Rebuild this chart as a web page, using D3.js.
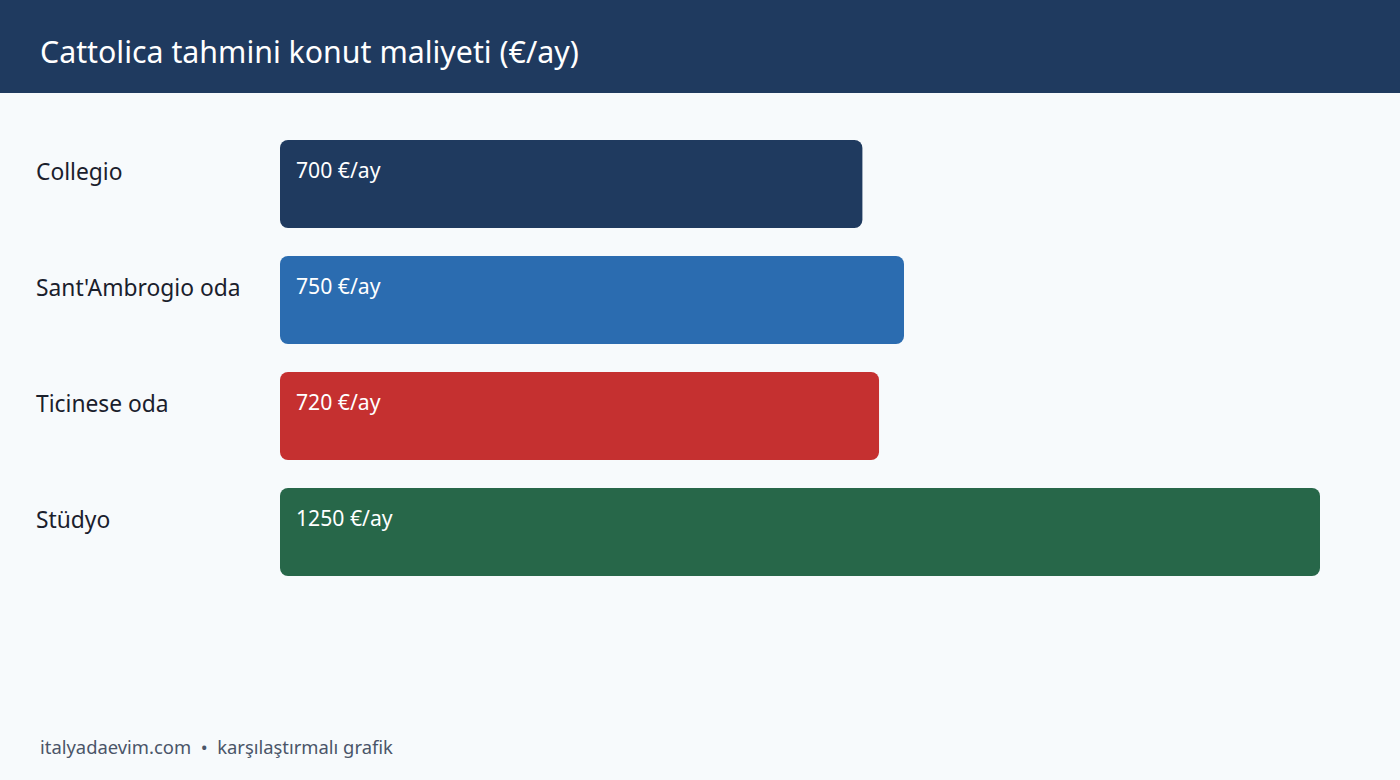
<!DOCTYPE html>
<html>
<head>
<meta charset="utf-8">
<title>Cattolica tahmini konut maliyeti</title>
<script src="https://d3js.org/d3.v7.min.js"></script>
<style>
  html, body { margin: 0; padding: 0; background: #f7fafc; }
  svg { display: block; font-family: "Segoe UI", "Noto Sans", sans-serif; }
</style>
</head>
<body>
<div id="chart"></div>
<script>
// data
var categories = ["Collegio", "Sant'Ambrogio oda", "Ticinese oda", "Stüdyo"];
var values = [700, 750, 720, 1250];
var colors = ["#1f3a5f", "#2b6cb0", "#c53030", "#276749"];
var unit = "€/ay";
var title = "Cattolica tahmini konut maliyeti (€/ay)";
var footer = "italyadaevim.com  •  karşılaştırmalı grafik";

var W = 1400, H = 780;

var svg = d3.select("#chart").append("svg")
  .attr("width", W)
  .attr("height", H);

svg.append("rect").attr("width", W).attr("height", H).attr("fill", "#f7fafc");

// header
svg.append("rect").attr("width", W).attr("height", 93).attr("fill", "#1f3a5f");
svg.append("text")
  .attr("x", 40).attr("y", 63)
  .attr("fill", "#ffffff")
  .attr("font-size", 30.3)
  .text(title);

// scales
var x = d3.scaleLinear().domain([0, 1250]).range([280, 1320]);
var y = d3.scaleBand().domain(categories).range([140, 576])
  .paddingInner(28 / 116).paddingOuter(0);

var rows = svg.selectAll("g.row")
  .data(categories.map(function(c, i) { return { cat: c, val: values[i], col: colors[i] }; }))
  .enter().append("g").attr("class", "row");

rows.append("rect")
  .attr("x", x(0))
  .attr("y", function(d) { return y(d.cat); })
  .attr("width", function(d) { return x(d.val) - x(0); })
  .attr("height", y.bandwidth())
  .attr("rx", 8).attr("ry", 8)
  .attr("fill", function(d) { return d.col; });

rows.append("text")
  .attr("x", 36)
  .attr("y", function(d) { return y(d.cat) + 40; })
  .attr("fill", "#1a202c")
  .attr("font-size", 22.8)
  .text(function(d) { return d.cat; });

rows.append("text")
  .attr("x", x(0) + 16)
  .attr("y", function(d) { return y(d.cat) + 38; })
  .attr("fill", "#ffffff")
  .attr("font-size", 21.2)
  .text(function(d) { return d.val + " " + unit; });

// footer
svg.append("text")
  .attr("x", 40).attr("y", 754)
  .attr("fill", "#4a5568")
  .attr("font-size", 18.4)
  .style("white-space", "pre")
  .text(footer);
</script>
</body>
</html>
